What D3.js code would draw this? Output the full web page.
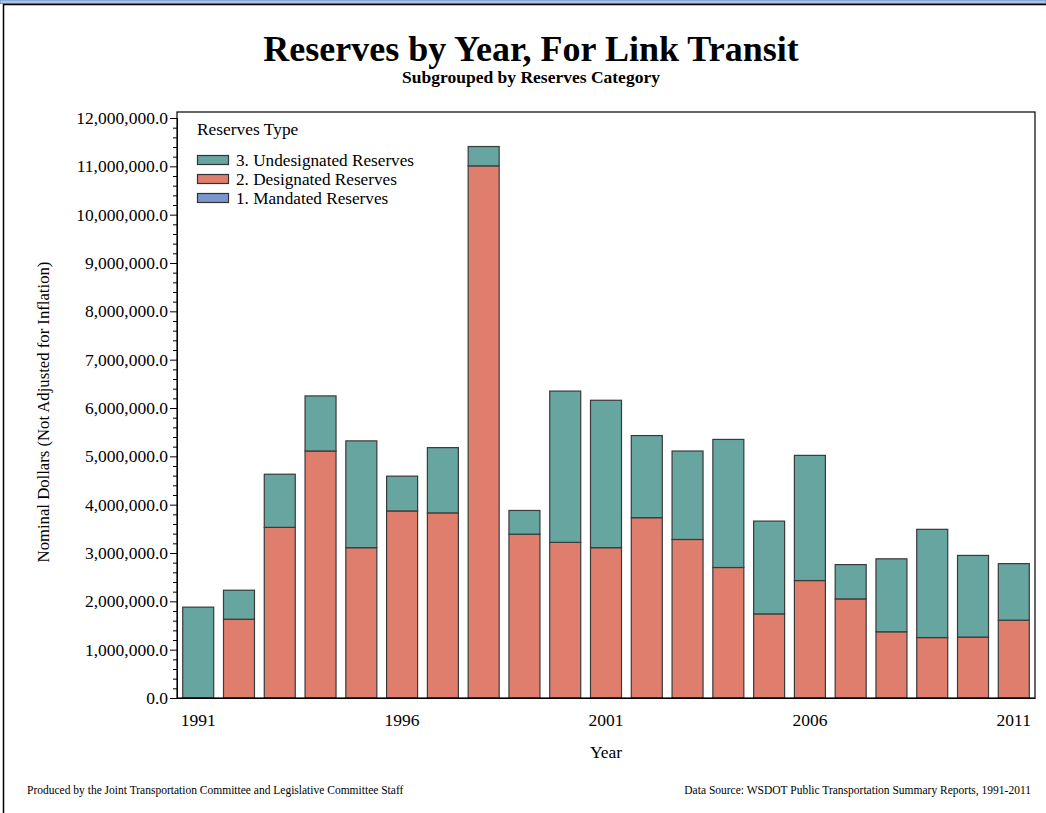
<!DOCTYPE html>
<html>
<head>
<meta charset="utf-8">
<script src="https://cdn.jsdelivr.net/npm/d3@7"></script>
<style>
  html, body { margin: 0; padding: 0; background: #fff; }
  svg { display: block; }
  text { font-family: "Liberation Serif", "Times New Roman", serif; fill: #000; }
</style>
</head>
<body>
<svg id="chart" width="1046" height="813"></svg>
<script>
// ---- Data (values in dollars) ----
const years = ["1991","1992","1993","1994","1995","1996","1997","1998","1999","2000","2001",
               "2002","2003","2004","2005","2006","2007","2008","2009","2010","2011"];
const mandated = [0,0,0,0,0,0,0,0,0,0,0,0,0,0,0,0,0,0,0,0,0];
const designated = [0, 1630000, 3530000, 5110000, 3110000, 3870000, 3830000, 11010000, 3390000, 3220000, 3110000,
                    3730000, 3280000, 2700000, 1740000, 2430000, 2050000, 1370000, 1250000, 1260000, 1610000];
const undesignated = [1880000, 600000, 1100000, 1140000, 2210000, 720000, 1350000, 400000, 490000, 3130000, 3050000,
                      1700000, 1830000, 2650000, 1920000, 2590000, 710000, 1510000, 2240000, 1690000, 1170000];
const xTickLabels = ["1991","1996","2001","2006","2011"];
const yTicks = [0,1e6,2e6,3e6,4e6,5e6,6e6,7e6,8e6,9e6,10e6,11e6,12e6];
const seriesNames = ["1. Mandated Reserves","2. Designated Reserves","3. Undesignated Reserves"];
const seriesKeys = ["mandated","designated","undesignated"];
const seriesColors = {mandated:"#7B96CF", designated:"#E07E6E", undesignated:"#67A5A0"};

const svg = d3.select("#chart");

// ---- Page frame ----
svg.append("rect").attr("x",0).attr("y",0).attr("width",1046).attr("height",3.5)
   .attr("fill","#A9C3E4").attr("stroke","#6F93C5").attr("stroke-width",1);
svg.append("line").attr("x1",3).attr("x2",1046).attr("y1",4.5).attr("y2",4.5)
   .attr("stroke","#000").attr("stroke-width",1.5);
svg.append("line").attr("x1",3.5).attr("x2",3.5).attr("y1",4).attr("y2",813)
   .attr("stroke","#000").attr("stroke-width",1.5);

// ---- Layout ----
const L = 177, R = 1035, T = 112, B = 698;

const x = d3.scaleBand().domain(years).range([L, R]).paddingInner(0.24).paddingOuter(0.14);
const y = d3.scaleLinear().domain([0, 12e6]).range([B, 118]);

// ---- Stack ----
const table = years.map((yr, i) => ({year: yr, mandated: mandated[i], designated: designated[i], undesignated: undesignated[i]}));
const stacked = d3.stack().keys(seriesKeys)(table);

// ---- Titles ----
svg.append("text").attr("x", 531).attr("y", 61).attr("text-anchor","middle")
   .style("font-size","36px").style("font-weight","bold").text("Reserves by Year, For Link Transit");
svg.append("text").attr("x", 531).attr("y", 83).attr("text-anchor","middle")
   .style("font-size","17.5px").style("font-weight","bold").text("Subgrouped by Reserves Category");

// ---- Bars ----
const gBars = svg.append("g");
stacked.forEach(s => {
  gBars.selectAll(null).data(s.filter(d => d[1] - d[0] > 0)).enter().append("rect")
    .attr("x", d => x(d.data.year))
    .attr("width", x.bandwidth())
    .attr("y", d => y(d[1]))
    .attr("height", d => y(d[0]) - y(d[1]))
    .attr("fill", seriesColors[s.key])
    .attr("stroke", "#3a3a3a")
    .attr("stroke-width", 1.2);
});

// ---- Plot frame ----
svg.append("rect").attr("x", L).attr("y", T).attr("width", R - L).attr("height", B - T)
   .attr("fill","none").attr("stroke","#000").attr("stroke-width",1.2);

// ---- Y axis ----
const minorTicks = d3.range(0, 12e6 + 1, 2e5).filter(v => v % 1e6 !== 0);
const gYminor = svg.append("g").attr("transform", `translate(${L},0)`)
  .call(d3.axisLeft(y).tickValues(minorTicks).tickSize(4).tickFormat(""));
gYminor.select(".domain").remove();
gYminor.selectAll("line").attr("stroke","#000");

const gY = svg.append("g").attr("transform", `translate(${L},0)`)
  .call(d3.axisLeft(y).tickValues(yTicks).tickSize(7).tickPadding(2).tickFormat(d3.format(",.1f")));
gY.select(".domain").attr("stroke","#000");
gY.selectAll("line").attr("stroke","#000");
gY.selectAll("text").style("font-size","17.5px").style("font-family","'Liberation Serif', serif").attr("fill","#000");

svg.append("text").attr("transform","translate(49,412) rotate(-90)").attr("text-anchor","middle")
   .style("font-size","16.7px").text("Nominal Dollars (Not Adjusted for Inflation)");

// ---- X axis ----
const gX = svg.append("g").attr("transform", `translate(0,${B})`)
  .call(d3.axisBottom(x).tickValues(xTickLabels).tickSize(0).tickPadding(16));
gX.select(".domain").attr("stroke","#000");
gX.selectAll("text").style("font-size","17.5px").style("font-family","'Liberation Serif', serif").attr("fill","#000");

svg.append("text").attr("x", (L + R) / 2).attr("y", 758).attr("text-anchor","middle")
   .style("font-size","17.5px").text("Year");

// ---- Legend ----
const lg = svg.append("g");
lg.append("text").attr("x", 197).attr("y", 135).style("font-size","17.4px").text("Reserves Type");
const legendOrder = ["undesignated","designated","mandated"];
legendOrder.forEach((k, i) => {
  const cy = 160 + i * 19;
  lg.append("rect").attr("x", 197.5).attr("y", cy - 4.5).attr("width", 31).attr("height", 9)
    .attr("fill", seriesColors[k]).attr("stroke","#333").attr("stroke-width",1.2);
  lg.append("text").attr("x", 236).attr("y", cy + 5.5).style("font-size","17.2px")
    .text(seriesNames[seriesKeys.indexOf(k)]);
});

// ---- Footer ----
svg.append("text").attr("x", 27).attr("y", 794).style("font-size","11.5px")
   .text("Produced by the Joint Transportation Committee and Legislative Committee Staff");
svg.append("text").attr("x", 1031).attr("y", 794).attr("text-anchor","end").style("font-size","11.5px")
   .text("Data Source: WSDOT Public Transportation Summary Reports, 1991-2011");
</script>
</body>
</html>
